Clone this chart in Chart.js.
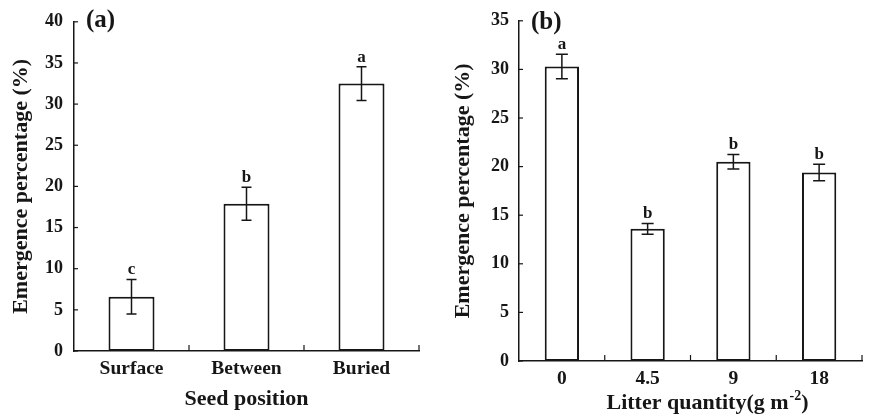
<!DOCTYPE html>
<html>
<head>
<meta charset="utf-8">
<script src="https://cdn.jsdelivr.net/npm/chart.js@4.4.1/dist/chart.umd.min.js"></script>
<style>
  html, body { margin: 0; padding: 0; background: #ffffff; }
  .panel { position: absolute; top: 0; width: 446px; height: 420px; }
  #panelA { left: 0; }
  #panelB { left: 446px; }
</style>
</head>
<body>
<div class="panel" id="panelA"><canvas id="chartA"></canvas></div>
<div class="panel" id="panelB"><canvas id="chartB"></canvas></div>
<script>
// panel (a) - seed position
const positionLabels = ['Surface', 'Between', 'Buried'];
const positionValues = [6.6, 17.9, 32.5];
const positionErrors = [2.1, 2.0, 2.05];
const positionLetters = ['c', 'b', 'a'];

// panel (b) - litter quantity
const litterLabels = ['0', '4.5', '9', '18'];
const litterValues = [30.3, 13.6, 20.5, 19.4];
const litterErrors = [1.25, 0.55, 0.75, 0.85];
const litterLetters = ['a', 'b', 'b', 'b'];

const SERIF = "'Liberation Serif', 'Times New Roman', serif";
const INK = '#161616';

// error bars + significance letters + inward ticks + panel tag
const decorations = {
    id: 'decorations',
    afterDatasetsDraw(chart, args, opts) {
        const ctx = chart.ctx;
        const xs = chart.scales.x;
        const ys = chart.scales.y;
        const meta = chart.getDatasetMeta(0);
        const area = chart.chartArea;

        ctx.save();
        ctx.strokeStyle = INK;
        ctx.lineWidth = 1.5;

        // error bars
        meta.data.forEach((bar, i) => {
            const v = opts.values[i];
            const e = opts.errors[i];
            const yTop = ys.getPixelForValue(v + e);
            const yBot = ys.getPixelForValue(v - e);
            const half = opts.cap / 2;
            ctx.beginPath();
            ctx.moveTo(bar.x, yTop); ctx.lineTo(bar.x, yBot);
            ctx.moveTo(bar.x - half, yTop); ctx.lineTo(bar.x + half, yTop);
            ctx.moveTo(bar.x - half, yBot); ctx.lineTo(bar.x + half, yBot);
            ctx.stroke();

            // letter above
            ctx.fillStyle = INK;
            ctx.font = 'bold 17px ' + SERIF;
            ctx.textAlign = 'center';
            ctx.textBaseline = 'alphabetic';
            ctx.fillText(opts.letters[i], bar.x, yTop - 5);
        });

        // inward ticks on y axis
        ctx.lineWidth = 1.2;
        ys.ticks.forEach(t => {
            const y = ys.getPixelForValue(t.value);
            ctx.beginPath();
            ctx.moveTo(area.left, y);
            ctx.lineTo(area.left + 4, y);
            ctx.stroke();
        });
        // inward ticks on x axis at category boundaries
        for (let i = 1; i <= opts.values.length; i++) {
            const x = xs.getPixelForValue(i - 0.5);
            ctx.beginPath();
            ctx.moveTo(x, area.bottom);
            ctx.lineTo(x, area.bottom - 6);
            ctx.stroke();
        }

        // panel tag
        ctx.fillStyle = INK;
        ctx.font = 'bold 25px ' + SERIF;
        ctx.textAlign = 'left';
        ctx.textBaseline = 'alphabetic';
        ctx.fillText(opts.tag, area.left + 12, opts.tagY);

        ctx.restore();
    }
};

// x title with a superscript (panel b only)
const supTitle = {
    id: 'supTitle',
    afterDraw(chart, args, opts) {
        if (!opts.main) return;
        const ctx = chart.ctx;
        const area = chart.chartArea;
        ctx.save();
        ctx.fillStyle = INK;
        ctx.textBaseline = 'alphabetic';
        ctx.textAlign = 'left';
        const big = 'bold 22px ' + SERIF;
        const small = 'bold 14px ' + SERIF;
        ctx.font = big;
        const w1 = ctx.measureText(opts.main).width;
        const w3 = ctx.measureText(opts.tail).width;
        ctx.font = small;
        const w2 = ctx.measureText(opts.sup).width;
        const total = w1 + w2 + w3 + 1;
        let x = (area.left + area.right) / 2 + opts.shift - total / 2;
        const y = opts.y;
        ctx.font = big;
        ctx.fillText(opts.main, x, y);
        x += w1 + 1;
        ctx.font = small;
        ctx.fillText(opts.sup, x, y - 9);
        x += w2;
        ctx.font = big;
        ctx.fillText(opts.tail, x, y);
        ctx.restore();
    }
};

function makeChart(canvasId, labels, values, errors, letters, cfg) {
    const ctx = document.getElementById(canvasId).getContext('2d');
    return new Chart(ctx, {
        type: 'bar',
        data: {
            labels: labels,
            datasets: [{
                data: values,
                backgroundColor: '#ffffff',
                borderColor: INK,
                borderWidth: 2,
                borderSkipped: false,
                categoryPercentage: 1.0,
                barPercentage: 0.4
            }]
        },
        options: {
            responsive: true,
            maintainAspectRatio: false,
            animation: false,
            events: [],
            layout: {
                padding: { left: 0, right: cfg.padRight, top: cfg.padTop, bottom: 0 }
            },
            plugins: {
                legend: { display: false },
                tooltip: { enabled: false },
                decorations: {
                    values: values,
                    errors: errors,
                    letters: letters,
                    cap: cfg.cap,
                    tag: cfg.tag,
                    tagY: cfg.tagY
                },
                supTitle: cfg.supTitle || {}
            },
            scales: {
                x: {
                    afterFit: s => { s.height = cfg.xHeight; },
                    border: { display: true, color: INK, width: 1.5 },
                    grid: { display: false, drawTicks: false },
                    ticks: {
                        color: INK,
                        padding: 6,
                        font: { family: SERIF, size: 19.5, weight: 'bold' }
                    },
                    title: {
                        display: !!cfg.xTitle,
                        text: cfg.xTitle || '',
                        color: INK,
                        padding: { top: 0, bottom: 7 },
                        font: { family: SERIF, size: 22, weight: 'bold' }
                    }
                },
                y: {
                    min: 0,
                    max: cfg.yMax,
                    afterFit: s => { s.width = cfg.yWidth; },
                    border: { display: true, color: INK, width: 1.5 },
                    grid: { display: false, drawTicks: false },
                    ticks: {
                        stepSize: 5,
                        color: INK,
                        padding: cfg.yTickPad,
                        font: { family: SERIF, size: 18, weight: 'bold' }
                    },
                    title: {
                        display: true,
                        text: 'Emergence percentage (%)',
                        color: INK,
                        padding: { top: cfg.yTitlePad, bottom: 0 },
                        font: { family: SERIF, size: 22, weight: 'bold' }
                    }
                }
            }
        },
        plugins: [decorations, supTitle]
    });
}

makeChart('chartA', positionLabels, positionValues, positionErrors, positionLetters, {
    padRight: 27, padTop: 19, xHeight: 69, yWidth: 74, yMax: 40,
    yTickPad: 11, yTitlePad: 8, cap: 10, tag: '(a)', tagY: 27,
    xTitle: 'Seed position'
});

makeChart('chartB', litterLabels, litterValues, litterErrors, litterLetters, {
    padRight: 30, padTop: 19, xHeight: 59, yWidth: 73, yMax: 35,
    yTickPad: 10, yTitlePad: 4, cap: 12, tag: '(b)', tagY: 29,
    xTitle: '',
    supTitle: { main: 'Litter quantity(g m', sup: '-2', tail: ')', shift: 17, y: 409 }
});
</script>
</body>
</html>
